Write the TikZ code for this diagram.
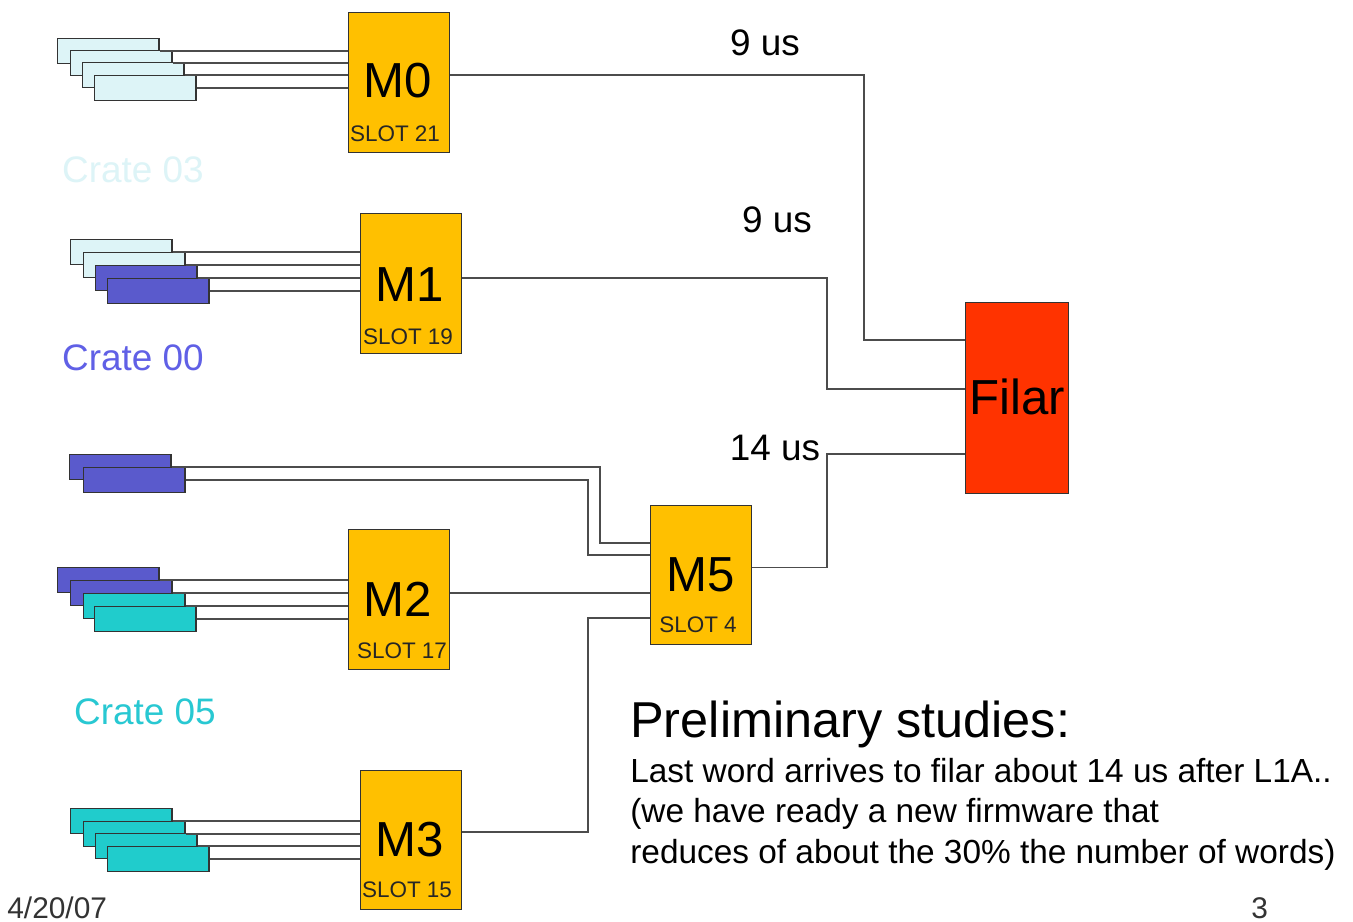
\documentclass[tikz,border=0pt]{standalone}
\usepackage{fontspec}
\setmainfont{Liberation Sans}
\usepackage{tikz}
\definecolor{boardyellow}{RGB}{255,192,0}
\definecolor{filarred}{RGB}{255,51,0}
\definecolor{lightcard}{RGB}{221,244,247}
\definecolor{bluecard}{RGB}{90,90,204}
\definecolor{cyancard}{RGB}{32,204,204}
\definecolor{crateblue}{RGB}{96,96,230}
\definecolor{cratecyan}{RGB}{40,200,210}

\begin{document}
\begin{tikzpicture}[x=0.02cm, y=-0.02cm,
    card/.style={draw=black!80, line width=0.6pt, anchor=north west, minimum width=2.03cm, minimum height=0.5cm, inner sep=0pt},
    board/.style={draw=black!80, fill=boardyellow, line width=0.6pt, anchor=north west, minimum width=2.02cm, minimum height=2.8cm, inner sep=0pt},
    wire/.style={draw=black!70, line width=0.7pt},
    bigtxt/.style={font=\fontsize{28}{32}\selectfont},
    slottxt/.style={font=\fontsize{12.8}{14}\selectfont, text=black!85},
    usTxt/.style={font=\fontsize{21}{24}\selectfont},
    crateTxt/.style={font=\fontsize{21}{24}\selectfont},
    noteTxt/.style={anchor=base west, inner sep=0pt, font=\fontsize{19}{22}\selectfont}]
    \fill[white] (0,0) rectangle (1353,922);
    \useasboundingbox (0,0) rectangle (1353,922);

    % readout boards
    \node[board] (m0) at (348,12) {};
    \node[board] (m1) at (360,213) {};
    \node[board] (m2) at (348,529) {};
    \node[board, minimum height=2.78cm] (m3) at (360,770) {};
    \node[board, minimum height=2.78cm] (m5) at (650,505) {};
    \node[board, fill=filarred, minimum width=2.06cm, minimum height=3.82cm] (filar) at (965,302) {};

    \node[bigtxt] (m0t) at (398,81) {M0};
    \node[slottxt] (m0s) at (395,134) {SLOT 21};
    \node[bigtxt] (m1t) at (410,285) {M1};
    \node[slottxt] (m1s) at (408,337) {SLOT 19};
    \node[bigtxt] (m2t) at (398,599) {M2};
    \node[slottxt] (m2s) at (402,651) {SLOT 17};
    \node[bigtxt] (m3t) at (410,840) {M3};
    \node[slottxt] (m3s) at (407,890) {SLOT 15};
    \node[bigtxt] (m5t) at (701,575) {M5};
    \node[slottxt] (m5s) at (698,625) {SLOT 4};
    \node[bigtxt] (filart) at (1017,397) {Filar};

    % crate 03
    \node[card, fill=lightcard] (a1) at (57,38) {};
    \node[card, fill=lightcard] (a2) at (70,50) {};
    \node[card, fill=lightcard] (a3) at (82,62) {};
    \node[card, fill=lightcard] (a4) at (94,75) {};
    % crate 00
    \node[card, fill=lightcard] (b1) at (70,239) {};
    \node[card, fill=lightcard] (b2) at (83,252) {};
    \node[card, fill=bluecard] (b3) at (95,265) {};
    \node[card, fill=bluecard] (b4) at (107,278) {};
    % cards to M5
    \node[card, fill=bluecard] (c1) at (69,454) {};
    \node[card, fill=bluecard] (c2) at (83,467) {};
    % crate 05
    \node[card, fill=bluecard] (d1) at (57,567) {};
    \node[card, fill=bluecard] (d2) at (70,580) {};
    \node[card, fill=cyancard] (d3) at (83,593) {};
    \node[card, fill=cyancard] (d4) at (94,606) {};
    \node[card, fill=cyancard] (e1) at (70,808) {};
    \node[card, fill=cyancard] (e2) at (83,821) {};
    \node[card, fill=cyancard] (e3) at (95,833) {};
    \node[card, fill=cyancard] (e4) at (107,846) {};

    \draw[wire] (a1.east) -- (a1.east -| m0.west);
    \draw[wire] (a2.east) -- (a2.east -| m0.west);
    \draw[wire] (a3.east) -- (a3.east -| m0.west);
    \draw[wire] (a4.east) -- (a4.east -| m0.west);
    \draw[wire] (b1.east) -- (b1.east -| m1.west);
    \draw[wire] (b2.east) -- (b2.east -| m1.west);
    \draw[wire] (b3.east) -- (b3.east -| m1.west);
    \draw[wire] (b4.east) -- (b4.east -| m1.west);
    \draw[wire] (d1.east) -- (d1.east -| m2.west);
    \draw[wire] (d2.east) -- (d2.east -| m2.west);
    \draw[wire] (d3.east) -- (d3.east -| m2.west);
    \draw[wire] (d4.east) -- (d4.east -| m2.west);
    \draw[wire] (e1.east) -- (e1.east -| m3.west);
    \draw[wire] (e2.east) -- (e2.east -| m3.west);
    \draw[wire] (e3.east) -- (e3.east -| m3.west);
    \draw[wire] (e4.east) -- (e4.east -| m3.west);

    % bends of the long links
    \coordinate (ja) at (600,543);
    \coordinate (jb) at (588,555);
    \coordinate (jc) at (588,618);
    \coordinate (jd) at (827,454);
    \coordinate (je) at (827,389);
    \coordinate (jf) at (864,340);
    \draw[wire] (c1.east) -| (ja) -- (ja -| m5.west);
    \draw[wire] (c2.east) -| (jb) -- (jb -| m5.west);
    \draw[wire] ([yshift=0.13cm]m2.east) -- ([yshift=0.13cm]m2.east -| m5.west);
    \draw[wire] ([yshift=0.16cm]m3.east) -| (jc) -- (jc -| m5.west);
    \draw[wire] ([yshift=0.15cm]m5.east) -| (jd) -- (jd -| filar.west);
    \draw[wire] ([yshift=0.11cm]m1.east) -| (je) -- (je -| filar.west);
    \draw[wire] ([yshift=0.15cm]m0.east) -| (jf) -- (jf -| filar.west);

    \node[usTxt] (us0) at (765,43) {9 us};
    \node[usTxt] (us1) at (777,220) {9 us};
    \node[usTxt] (us5) at (775,448) {14 us};

    \node[crateTxt, text=lightcard] (cr03) at (133,170) {Crate 03};
    \node[crateTxt, text=crateblue] (cr00) at (133,358) {Crate 00};
    \node[crateTxt, text=cratecyan] (cr05) at (145,712) {Crate 05};

    \node[noteTxt, font=\fontsize{28.7}{32}\selectfont] (title) at (630,737) {Preliminary studies:};
    \node[noteTxt] (txta) at (630,782) {Last word arrives to filar about 14 us after L1A..};
    \node[noteTxt] (txtb) at (630,822) {(we have ready a new firmware that};
    \node[noteTxt] (txtc) at (630,863) {reduces of about the 30\% the number of words)};

    \node[noteTxt, font=\fontsize{17}{20}\selectfont, text=black!80] (date) at (7,918) {4/20/07};
    \node[noteTxt, font=\fontsize{17}{20}\selectfont, text=black!80] (page) at (1251,918) {3};
\end{tikzpicture}
\end{document}
